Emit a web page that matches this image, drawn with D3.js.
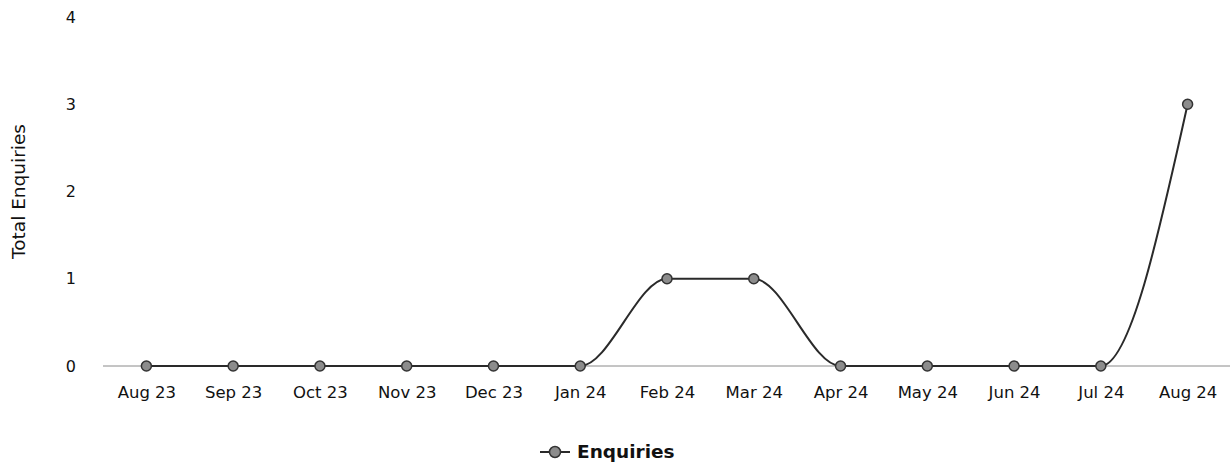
<!DOCTYPE html>
<html>
<head>
<meta charset="utf-8">
<script src="https://cdn.jsdelivr.net/npm/d3@7"></script>
<style>
    body { margin: 0; background: #fff; }
    svg text { font-family: "DejaVu Sans", sans-serif; fill: #111; }
</style>
</head>
<body>
<div id="chart"></div>
<script>
var months = ["Aug 23", "Sep 23", "Oct 23", "Nov 23", "Dec 23", "Jan 24", "Feb 24",
              "Mar 24", "Apr 24", "May 24", "Jun 24", "Jul 24", "Aug 24"];
var enquiries = [0, 0, 0, 0, 0, 0, 1, 1, 0, 0, 0, 0, 3];
var y_ticks = [0, 1, 2, 3, 4];
var series_name = "Enquiries";
var axis_title = "Total Enquiries";

function draw_chart() {
    const WIDTH = 1230;
    const HEIGHT = 465;
    const LEFT = 103;
    const RIGHT = 1231;
    const TOP = 17;
    const BOTTOM = 366;
    const LINE_SIZE = 2;
    const MARKER_R = 5;

    var svg = d3.select("#chart")
        .append("svg")
            .attr("width", WIDTH)
            .attr("height", HEIGHT);

    var x = d3.scalePoint()
        .domain(months)
        .range([LEFT, RIGHT])
        .padding(0.5);

    var y = d3.scaleLinear()
        .domain([0, 4])
        .range([BOTTOM, TOP]);

    // baseline
    svg.append("line")
        .attr("x1", LEFT)
        .attr("x2", WIDTH)
        .attr("y1", y(0))
        .attr("y2", y(0))
        .attr("stroke", "#8a8a8a")
        .attr("stroke-width", 1);

    // y axis, labels only
    var y_axis = svg.append("g")
        .attr("transform", "translate(76,0)")
        .call(d3.axisLeft(y).tickValues(y_ticks).tickFormat(d3.format("d")).tickSize(0).tickPadding(0));
    y_axis.select(".domain").remove();
    y_axis.selectAll("text")
        .attr("font-size", 16)
        .attr("font-family", "DejaVu Sans")
        .attr("fill", "#111");

    // x axis, labels only
    var x_axis = svg.append("g")
        .attr("transform", "translate(0," + (BOTTOM + 20) + ")")
        .call(d3.axisBottom(x).tickSize(0).tickPadding(0));
    x_axis.select(".domain").remove();
    x_axis.selectAll("text")
        .attr("font-size", 16.5)
        .attr("font-family", "DejaVu Sans")
        .attr("fill", "#111");

    svg.append("text")
        .attr("transform", "translate(25," + ((TOP + BOTTOM) / 2) + ") rotate(-90)")
        .attr("text-anchor", "middle")
        .attr("font-size", 18.5)
        .text(axis_title);

    var line = d3.line()
        .x(function (d, i) { return x(months[i]); })
        .y(function (d) { return y(d); })
        .curve(d3.curveMonotoneX);

    svg.append("path")
        .attr("d", line(enquiries))
        .attr("stroke", "#2a2a2a")
        .attr("stroke-width", LINE_SIZE)
        .attr("fill", "none");

    svg.selectAll("circle.pt")
        .data(enquiries)
        .enter()
        .append("circle")
            .attr("class", "pt")
            .attr("cx", function (d, i) { return x(months[i]); })
            .attr("cy", function (d) { return y(d); })
            .attr("r", MARKER_R)
            .attr("fill", "#8c8c8c")
            .attr("stroke", "#333")
            .attr("stroke-width", 1.5);

    // legend
    var legend = svg.append("g").attr("transform", "translate(540,452)");
    legend.append("line")
        .attr("x1", 0).attr("x2", 30)
        .attr("y1", 0).attr("y2", 0)
        .attr("stroke", "#2a2a2a")
        .attr("stroke-width", LINE_SIZE);
    legend.append("circle")
        .attr("cx", 15).attr("cy", 0)
        .attr("r", MARKER_R + 0.5)
        .attr("fill", "#8c8c8c")
        .attr("stroke", "#333")
        .attr("stroke-width", 1.5);
    legend.append("text")
        .attr("x", 37)
        .attr("y", 0)
        .attr("dy", "0.35em")
        .attr("font-size", 18.5)
        .attr("font-weight", "bold")
        .text(series_name);
}

draw_chart();
</script>
</body>
</html>
